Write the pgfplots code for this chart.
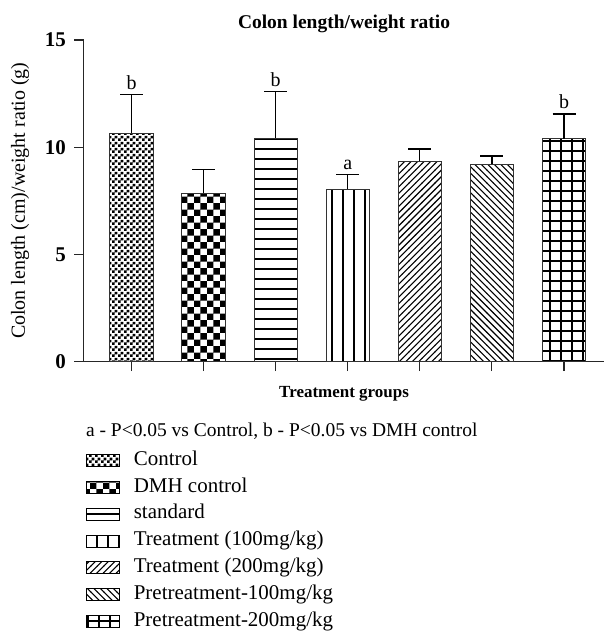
\documentclass[border=0pt]{standalone}
\usepackage{fontspec}
\setmainfont{Liberation Serif}
\usepackage{pgfplots}
\pgfplotsset{compat=1.18}
\usetikzlibrary{patterns}

\pgfdeclarepatternformonly{finecheck}{\pgfpointorigin}{\pgfqpoint{5.6pt}{5.6pt}}{\pgfqpoint{5.6pt}{5.6pt}}{%
  \pgfpathrectangle{\pgfpointorigin}{\pgfqpoint{2.8pt}{2.8pt}}%
  \pgfpathrectangle{\pgfqpoint{2.8pt}{2.8pt}}{\pgfqpoint{2.8pt}{2.8pt}}%
  \pgfusepath{fill}}
\pgfdeclarepatternformonly{coarsecheck}{\pgfpointorigin}{\pgfqpoint{13pt}{13pt}}{\pgfqpoint{13pt}{13pt}}{%
  \pgfpathrectangle{\pgfpointorigin}{\pgfqpoint{6.5pt}{6.5pt}}%
  \pgfpathrectangle{\pgfqpoint{6.5pt}{6.5pt}}{\pgfqpoint{6.5pt}{6.5pt}}%
  \pgfusepath{fill}}
\pgfdeclarepatternformonly{hl}{\pgfpointorigin}{\pgfqpoint{10pt}{9.7pt}}{\pgfqpoint{10pt}{9.7pt}}{%
  \pgfpathrectangle{\pgfpointorigin}{\pgfqpoint{10pt}{2pt}}%
  \pgfusepath{fill}}
\pgfdeclarepatternformonly{vl}{\pgfpointorigin}{\pgfqpoint{10.7pt}{10pt}}{\pgfqpoint{10.7pt}{10pt}}{%
  \pgfpathrectangle{\pgfpointorigin}{\pgfqpoint{2pt}{10pt}}%
  \pgfusepath{fill}}
\pgfdeclarepatternformonly{nel}{\pgfqpoint{-1pt}{-1pt}}{\pgfqpoint{7.5pt}{7.5pt}}{\pgfqpoint{6.5pt}{6.5pt}}{%
  \pgfsetlinewidth{1.1pt}%
  \pgfpathmoveto{\pgfqpoint{-0.2pt}{-0.2pt}}\pgfpathlineto{\pgfqpoint{6.7pt}{6.7pt}}%
  \pgfusepath{stroke}}
\pgfdeclarepatternformonly{nwl}{\pgfqpoint{-1pt}{-1pt}}{\pgfqpoint{7.5pt}{7.5pt}}{\pgfqpoint{6.5pt}{6.5pt}}{%
  \pgfsetlinewidth{1.1pt}%
  \pgfpathmoveto{\pgfqpoint{-0.2pt}{6.7pt}}\pgfpathlineto{\pgfqpoint{6.7pt}{-0.2pt}}%
  \pgfusepath{stroke}}
\pgfdeclarepatternformonly{gridp}{\pgfpointorigin}{\pgfqpoint{11pt}{10pt}}{\pgfqpoint{11pt}{10pt}}{%
  \pgfpathrectangle{\pgfpointorigin}{\pgfqpoint{11pt}{2pt}}%
  \pgfpathrectangle{\pgfpointorigin}{\pgfqpoint{2pt}{10pt}}%
  \pgfusepath{fill}}

\pgfplotsset{
  mybar/.style={ybar, bar width=0.6, /pgf/bar shift=0pt, draw=black!80, line width=1pt,
    pattern color=black,
    error bars/y dir=plus, error bars/y explicit,
    error bars/error mark=|,
    error bars/error bar style={line width=1.2pt, black},
    error bars/error mark options={line width=1.2pt, mark size=11.5pt, black}},
}

\begin{document}
\begin{tikzpicture}
\begin{axis}[
  scale only axis, width=521pt, height=322pt,
  xmin=0.339, xmax=7.558, ymin=0, ymax=15,
  clip=false,
  axis x line*=bottom, axis y line*=left,
  axis line style={-, line width=1.1pt, black!85},
  xtick={1,2,3,4,5,6,7}, xticklabels={},
  ytick={0,5,10,15},
  tick align=outside,
  major tick length=9.5pt,
  tick style={line width=1.1pt, black!85},
  /pgf/number format/assume math mode=true,
  yticklabel style={font=\bfseries\fontsize{21}{24}\selectfont, xshift=-5pt},
  title={Colon length/weight ratio},
  every axis title/.style={at={(axis description cs:0.5,1.0342)}, anchor=base, font=\bfseries\fontsize{19.5}{22}\selectfont},
  xlabel={Treatment groups},
  every axis x label/.style={at={(axis description cs:0.5,-0.1118)}, anchor=base, font=\bfseries\fontsize{17}{22}\selectfont},
  ylabel={Colon length (cm)/weight ratio (g)},
  every axis y label/.style={at={(axis description cs:-0.1228,0.5)}, rotate=90, anchor=center, font=\fontsize{20}{24}\selectfont},
  legend cell align=left,
  legend image code/.code={\draw[#1, line width=1pt, draw=black] (0pt,-6pt) rectangle (33pt,6pt);},
  legend style={draw=none, fill=none, inner sep=0pt, outer sep=0pt,
    at={(axis description cs:0,0)}, anchor=north west, xshift=2pt, yshift=-90pt,
    font=\fontsize{21}{24}\selectfont, row sep=7.8pt,
    nodes={inner sep=0pt, text height=14pt, text depth=5pt},
    /tikz/every odd column/.append style={column sep=14pt}},
]
\addplot[mybar, pattern=finecheck] coordinates {(1,10.65) +- (0,1.80)};
\addlegendentry{Control}
\addplot[mybar, pattern=coarsecheck] coordinates {(2,7.84) +- (0,1.12)};
\addlegendentry{DMH control}
\addplot[mybar, pattern=hl] coordinates {(3,10.42) +- (0,2.17)};
\addlegendentry{standard}
\addplot[mybar, pattern=vl] coordinates {(4,8.04) +- (0,0.67)};
\addlegendentry{Treatment (100mg/kg)}
\addplot[mybar, pattern=nel] coordinates {(5,9.35) +- (0,0.56)};
\addlegendentry{Treatment (200mg/kg)}
\addplot[mybar, pattern=nwl] coordinates {(6,9.21) +- (0,0.38)};
\addlegendentry{Pretreatment-100mg/kg}
\addplot[mybar, pattern=gridp] coordinates {(7,10.40) +- (0,1.15)};
\addlegendentry{Pretreatment-200mg/kg}

\node[anchor=south, inner sep=0pt, yshift=5pt, font=\fontsize{20}{24}\selectfont] at (axis cs:1,12.45) {b};
\node[anchor=south, inner sep=0pt, yshift=5pt, font=\fontsize{20}{24}\selectfont] at (axis cs:3,12.59) {b};
\node[anchor=south, inner sep=0pt, yshift=5pt, font=\fontsize{20}{24}\selectfont] at (axis cs:4,8.71) {a};
\node[anchor=south, inner sep=0pt, yshift=5pt, font=\fontsize{20}{24}\selectfont] at (axis cs:7,11.55) {b};
\node[anchor=west, inner sep=0pt, xshift=2pt, yshift=-70pt, font=\fontsize{19.5}{24}\selectfont] at (rel axis cs:0,0) {a - P<0.05 vs Control, b - P<0.05 vs DMH control};
\end{axis}
\path (-84pt,-269pt) rectangle (521pt,362pt);
\end{tikzpicture}
\end{document}
